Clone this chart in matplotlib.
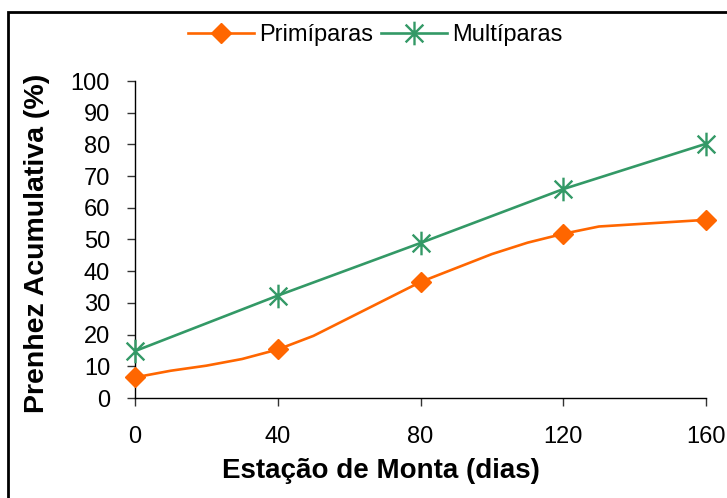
import matplotlib
matplotlib.use("Agg")
import matplotlib.pyplot as plt
from matplotlib.path import Path
from matplotlib.patches import Rectangle
from matplotlib.lines import Line2D

plt.rcParams['font.family'] = ['Liberation Sans', 'DejaVu Sans']

# Cumulative pregnancy rate (%) over the breeding season
dias_prim = [0, 10, 20, 30, 40, 50, 80, 100, 110, 120, 130, 160]
prim = [6.5, 8.6, 10.2, 12.3, 15.3, 19.6, 36.6, 45.4, 49.0, 51.8, 54.1, 56.2]
prim_marcados = [0, 40, 80, 120, 160]

dias_mult = [0, 40, 80, 120, 160]
mult = [14.8, 32.3, 48.9, 65.9, 80.2]

x_ticks = [0, 40, 80, 120, 160]
y_ticks = list(range(0, 101, 10))

laranja = '#FF6600'
verde = '#339966'

# asterisk marker: vertical stroke plus an X
asterisco = Path(
    [(0, -1), (0, 1), (-0.75, -0.75), (0.75, 0.75), (-0.75, 0.75), (0.75, -0.75)],
    [Path.MOVETO, Path.LINETO, Path.MOVETO, Path.LINETO, Path.MOVETO, Path.LINETO],
)

fig = plt.figure(figsize=(7.27, 4.98), dpi=100)
ax = fig.add_axes([135 / 727, 100 / 498, (706 - 135) / 727, (398 - 81) / 498])

marca_idx = [dias_prim.index(d) for d in prim_marcados]
ax.plot(dias_prim, prim, color=laranja, lw=1.9, marker='D', markersize=10,
        markevery=marca_idx, markeredgecolor=laranja, clip_on=False,
        label='Primíparas', zorder=3)
ax.plot(dias_mult, mult, color=verde, lw=1.9, marker=asterisco, markersize=17,
        markeredgewidth=1.7, markerfacecolor='none', markeredgecolor=verde,
        clip_on=False, label='Multíparas', zorder=3)

ax.set_xlim(0, 160)
ax.set_ylim(0, 100)
ax.set_xticks(x_ticks)
ax.set_yticks(y_ticks)
ax.tick_params(axis='both', direction='out', length=6, width=1.0,
               colors='#333333', labelcolor='black', labelsize=17, pad=12)
ax.tick_params(axis='x', pad=14)
for s in ('top', 'right'):
    ax.spines[s].set_visible(False)
for s in ('left', 'bottom'):
    ax.spines[s].set_linewidth(1.0)
    ax.spines[s].set_color('black')

fig.text(381 / 727, 1 - 471 / 498, 'Estação de Monta (dias)', ha='center',
         va='center', fontsize=20, fontweight='bold')
fig.text(37 / 727, 1 - 243 / 498, 'Prenhez Acumulativa (%)', ha='center',
         va='center', rotation=90, fontsize=20.5, fontweight='bold')

handles = [
    Line2D([], [], color=laranja, lw=1.9, marker='D', markersize=10),
    Line2D([], [], color=verde, lw=1.9, marker=asterisco, markersize=17,
           markeredgewidth=1.7, markerfacecolor='none'),
]
fig.legend(handles, ['Primíparas', 'Multíparas'], loc='center',
           bbox_to_anchor=(375 / 727, 1 - 35 / 498), ncol=2, frameon=False,
           fontsize=17, handlelength=2.8, handletextpad=0.2, columnspacing=0.35)

# outer frame
fig.patches.append(Rectangle((8 / 727, -0.2), 1.2, 1.2 - 12 / 498,
                             transform=fig.transFigure, fill=False,
                             edgecolor='black', lw=2.0))

fig.savefig('out.png', dpi=100)
